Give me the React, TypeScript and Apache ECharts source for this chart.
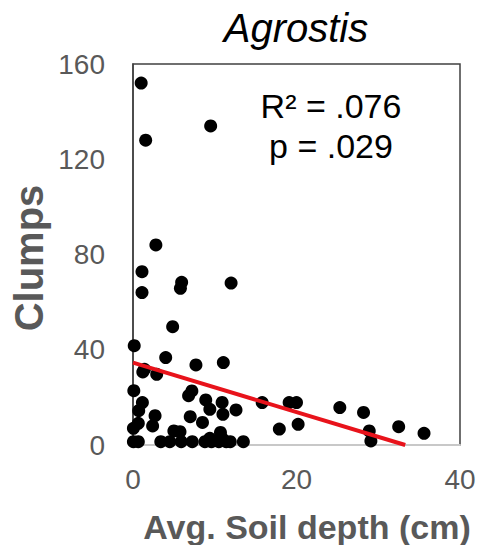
import React, { useEffect, useRef } from "react";
import * as echarts from "echarts";

const chartTitle = "Agrostis";
const xAxisTitle = "Avg. Soil depth (cm)";
const yAxisTitle = "Clumps";
const statR2 = "R\u00B2 = .076";
const statP = "p = .029";

const soilDepth = [
  1.0, 1.55, 9.5, 2.8, 1.1, 1.1, 5.95, 5.8, 12.0, 4.85, 0.15, 4.0, 7.7, 11.05, 1.2, 1.4, 2.9,
  0.1, 7.2, 6.8, 8.9, 10.9, 1.15, 0.7, 9.4, 12.6, 11.0, 15.8, 2.7, 7.0, 0.65, 0.05, 2.4, 8.5,
  5.0, 5.75, 10.7, 17.9, 19.1, 20.0, 20.2, 25.3, 28.2, 28.9, 29.1, 32.5, 35.6,
  0.05, 0.65, 3.4, 4.5, 5.9, 7.25, 8.8, 9.6, 10.5, 11.4, 11.9, 13.5, 9.4, 10.9,
];
const clumps = [
  152, 128, 134, 84, 72.8, 64, 68.3, 65.8, 68, 49.7, 41.7, 36.7, 33.6, 34.6, 30.7, 31.8, 29.7,
  22.8, 22.7, 20.7, 18.9, 17.9, 17.8, 14.4, 15, 14.7, 12.9, 17.8, 12.3, 11.9, 9.1, 7, 8, 9.5,
  5.9, 5.6, 5.3, 6.7, 17.8, 17.8, 8.7, 15.7, 13.7, 5.9, 1.7, 7.7, 4.9,
  1.4, 1.4, 1.4, 1.4, 1.4, 1.4, 1.4, 1.4, 1.4, 1.4, 1.4, 1.4, 2.8, 2.8,
];
const trendX = [0, 33.3];
const trendY = [34.6, 0];
const xTicks = [0, 20, 40];
const yTicks = [0, 40, 80, 120, 160];

export default function App() {
  const ref = useRef<HTMLDivElement>(null);
  useEffect(() => {
    if (!ref.current) return;
    const chart = echarts.init(ref.current, null, { renderer: "svg" });
    const font = "'Liberation Sans', Arial, sans-serif";
    chart.setOption({
      animation: false,
      backgroundColor: "#ffffff",
      grid: {
        left: 133,
        right: 19,
        top: 64,
        bottom: 100,
        show: true,
        borderColor: "#404040",
        borderWidth: 1.5,
      },
      xAxis: {
        type: "value",
        min: xTicks[0],
        max: xTicks[xTicks.length - 1],
        interval: 20,
        axisLine: { show: true, onZero: false, lineStyle: { color: "#c8c8c8", width: 2 } },
        axisTick: { show: false },
        splitLine: { show: false },
        axisLabel: { color: "#595959", fontSize: 28, fontFamily: font, margin: 20 },
      },
      yAxis: {
        type: "value",
        min: yTicks[0],
        max: yTicks[yTicks.length - 1],
        interval: 40,
        axisLine: { show: true, lineStyle: { color: "#404040", width: 1.5 } },
        axisTick: { show: false },
        splitLine: { show: false },
        axisLabel: { color: "#595959", fontSize: 28, fontFamily: font, margin: 28 },
      },
      series: [
        {
          type: "scatter",
          data: soilDepth.map((x, i) => [x, clumps[i]]),
          symbolSize: 13,
          itemStyle: { color: "#000000", opacity: 1 },
          z: 3,
        },
        {
          type: "line",
          data: trendX.map((x, i) => [x, trendY[i]]),
          symbol: "none",
          lineStyle: { color: "#e8131b", width: 4 },
          z: 4,
        },
      ],
      graphic: [
        {
          type: "text",
          x: 296,
          y: 28,
          style: {
            text: chartTitle,
            fontSize: 40,
            fontStyle: "italic",
            fontFamily: font,
            fill: "#000000",
            textAlign: "center",
            textVerticalAlign: "middle",
          },
        },
        {
          type: "text",
          x: 331,
          y: 106,
          style: {
            text: statR2,
            fontSize: 34,
            fontFamily: font,
            fill: "#000000",
            textAlign: "center",
            textVerticalAlign: "middle",
          },
        },
        {
          type: "text",
          x: 331,
          y: 146,
          style: {
            text: statP,
            fontSize: 34,
            fontFamily: font,
            fill: "#000000",
            textAlign: "center",
            textVerticalAlign: "middle",
          },
        },
        {
          type: "text",
          x: 307,
          y: 527,
          style: {
            text: xAxisTitle,
            fontSize: 34,
            fontWeight: "bold",
            fontFamily: font,
            fill: "#595959",
            textAlign: "center",
            textVerticalAlign: "middle",
          },
        },
        {
          type: "text",
          x: 29,
          y: 258,
          rotation: Math.PI / 2,
          style: {
            text: yAxisTitle,
            fontSize: 40,
            fontWeight: "bold",
            fontFamily: font,
            fill: "#595959",
            textAlign: "center",
            textVerticalAlign: "middle",
          },
        },
      ],
    });
    return () => chart.dispose();
  }, []);
  return <div ref={ref} style={{ width: 479, height: 545, position: "absolute", left: 0, top: 0 }} />;
}
